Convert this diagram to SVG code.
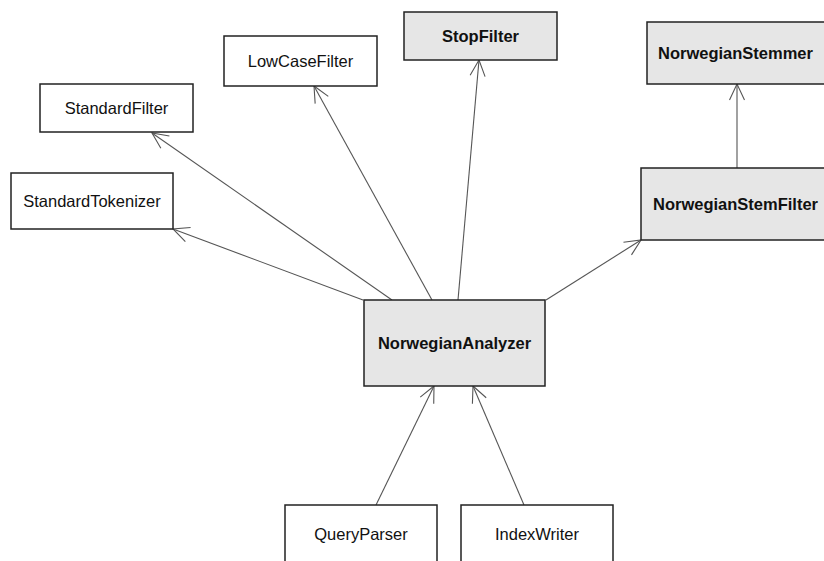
<svg xmlns="http://www.w3.org/2000/svg" width="824" height="561" viewBox="0 0 824 561">
<defs>
<style>
.box{stroke:#222;stroke-width:1.5}
.plain{fill:#fff}
.grey{fill:#e6e6e6}
.t{font-family:"Liberation Sans",Arial,sans-serif;font-size:16.5px;fill:#111}
.b{font-weight:bold}
.c{text-anchor:middle}
.edge{stroke:#555;stroke-width:1.1;fill:none;marker-end:url(#open)}
</style>
<marker id="open" markerUnits="userSpaceOnUse" markerWidth="20" markerHeight="20" viewBox="-18 -10 20 20" refX="0" refY="0" orient="auto">
<path d="M-16,-7.5 L0,0 L-16,7.5" fill="none" stroke="#555" stroke-width="1.1"/>
</marker>
</defs>
<rect width="824" height="561" fill="#fff"/>
<g id="connectors">
<line class="edge" x1="363" y1="300" x2="173" y2="229"/>
<line class="edge" x1="392" y1="300" x2="152" y2="133"/>
<line class="edge" x1="432" y1="300" x2="314" y2="86"/>
<line class="edge" x1="458" y1="300" x2="479" y2="60"/>
<line class="edge" x1="546" y1="300" x2="641" y2="240"/>
<line class="edge" x1="737" y1="168" x2="737" y2="84"/>
<line class="edge" x1="376" y1="505" x2="434" y2="386"/>
<line class="edge" x1="524" y1="505" x2="473" y2="386"/>
</g>
<g id="StandardTokenizer">
<rect class="box plain" x="11" y="173" width="162" height="56"/>
<text class="t c" x="92" y="207">StandardTokenizer</text>
</g>
<g id="StandardFilter">
<rect class="box plain" x="40" y="84" width="153" height="48"/>
<text class="t c" x="116.5" y="114">StandardFilter</text>
</g>
<g id="LowCaseFilter">
<rect class="box plain" x="224" y="36" width="153" height="50"/>
<text class="t c" x="300.5" y="67">LowCaseFilter</text>
</g>
<g id="StopFilter">
<rect class="box grey" x="404" y="12" width="153" height="48"/>
<text class="t b c" x="480.5" y="42">StopFilter</text>
</g>
<g id="NorwegianStemmer">
<rect class="box grey" x="647" y="22" width="190" height="62"/>
<text class="t b" x="658" y="59">NorwegianStemmer</text>
</g>
<g id="NorwegianStemFilter">
<rect class="box grey" x="641" y="168" width="196" height="72"/>
<text class="t b" x="653" y="210">NorwegianStemFilter</text>
</g>
<g id="NorwegianAnalyzer">
<rect class="box grey" x="364" y="300" width="181" height="86"/>
<text class="t b c" x="454.5" y="349">NorwegianAnalyzer</text>
</g>
<g id="QueryParser">
<rect class="box plain" x="285" y="505" width="152" height="70"/>
<text class="t c" x="361" y="540">QueryParser</text>
</g>
<g id="IndexWriter">
<rect class="box plain" x="461" y="505" width="152" height="70"/>
<text class="t c" x="537" y="540">IndexWriter</text>
</g>
</svg>
